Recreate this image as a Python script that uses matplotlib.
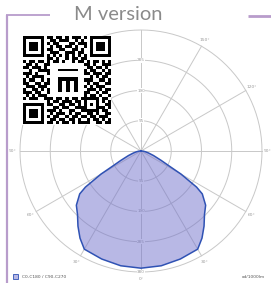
import numpy as np
import matplotlib
matplotlib.use('Agg')
import matplotlib.pyplot as plt
from matplotlib.patches import Rectangle

# photometric curve (same for C0-C180 and C90-C270), cd/1000lm
angles = [0, 10, 20, 30, 35, 40, 45, 50, 55, 57, 60, 62, 65, 70, 75, 80, 85, 90]
intensity = [368, 366, 361, 356, 334, 308, 282, 265, 235, 208, 145, 100, 70, 42, 25, 15, 8, 0]

ring_values = [95, 190, 285, 380]
spoke_angles = [0, 30, 60, 90, 120, 150]
right_labels = [0, 30, 60, 120, 150]
left_labels = [30, 60, 90, 120, 150]

legend_text = 'C0-C180 / C90-C270'
unit_text = 'cd/1000lm'
title = 'M version'

# QR code modules, rows top to bottom
qr_rows = [
    "1111111" + "0" + "1101101011101" + "0" + "1111111",
    "1000001" + "0" + "0110111001010" + "0" + "1000001",
    "1011101" + "0" + "1011000110111" + "0" + "1011101",
    "1011101" + "0" + "0101101101001" + "0" + "1011101",
    "1011101" + "0" + "1100110011010" + "0" + "1011101",
    "1000001" + "0" + "0111001110110" + "0" + "1000001",
    "1111111" + "0" + "1010101010101" + "0" + "1111111",
    "00000000" + "1101001011011" + "00000000",
    "101101101" + "01101001011" + "010110101",
    "011010011" + "00000000000" + "110100111",
    "110111010" + "00000000000" + "011011010",
    "001001111" + "00000000000" + "101100101",
    "111010001" + "00000000000" + "110111011",
    "010111100" + "00000000000" + "001010110",
    "101100101" + "00000000000" + "111001101",
    "110011011" + "00000000000" + "010110011",
    "011101110" + "00000000000" + "101011100",
    "100110101" + "00000000000" + "011101011",
    "111011001" + "00000000000" + "110010110",
    "010101110" + "00000000000" + "101101001",
    "101110011" + "10110101101" + "111110110",
    "000000001" + "01101110110" + "100010101",
    "111111101" + "10011011010" + "101010011",
    "100000100" + "01101100111" + "100011101",
    "101110101" + "11010011001" + "111110110",
    "101110100" + "10111010110" + "011010011",
    "101110101" + "01100101101" + "101101110",
    "100000100" + "11011011010" + "010110101",
    "111111101" + "10101101011" + "110011011",
]

W, H = 271, 283
fig = plt.figure(figsize=(W / 100, H / 100), dpi=100)

frame_col = '#b89ccb'
fill_col = (0.45, 0.45, 0.80, 0.5)
edge_col = '#2f52b4'
grid_col = '#c8c8c8'
lab_col = '#9a9a9a'

# background layer: frame, title, legend
bg = fig.add_axes([0, 0, 1, 1])
bg.set_xlim(0, W)
bg.set_ylim(H, 0)
bg.axis('off')
bg.plot([7, 7], [15, H], color=frame_col, lw=1.6, solid_capstyle='butt')
bg.plot([6.2, 50], [15.3, 15.3], color=frame_col, lw=1.3, solid_capstyle='butt')
bg.plot([248, W], [15.5, 15.5], color=frame_col, lw=2.0, solid_capstyle='butt')
bg.text(118, 15, title, ha='center', va='center', fontsize=14.5,
        family='Lato', color='#8a8a8a')
bg.add_patch(Rectangle((12.5, 274), 5, 5, facecolor=fill_col, edgecolor=edge_col, lw=0.6))
bg.text(22, 276.8, legend_text, ha='left', va='center', fontsize=3.2, color='#555555')
bg.text(253, 276.8, unit_text, ha='center', va='center', fontsize=3.2, color='#555555')

# polar diagram
cx, cy = 141, 151
rmax = 420
rpx = 121 * rmax / 380
ax = fig.add_axes([(cx - rpx) / W, (H - cy - rpx) / H, 2 * rpx / W, 2 * rpx / H],
                  projection='polar')
ax.set_theta_zero_location('S')
ax.set_ylim(0, rmax)
ax.axis('off')

circ = np.linspace(0, 2 * np.pi, 361)
for r in ring_values:
    ax.plot(circ, np.full_like(circ, r), color=grid_col, lw=0.7, zorder=1)
for a in spoke_angles:
    t = np.deg2rad(a)
    ax.plot([t, t], [0, 380], color=grid_col, lw=0.7, zorder=1)
    ax.plot([t + np.pi, t + np.pi], [0, 380], color=grid_col, lw=0.7, zorder=1)

for r in ring_values:
    ax.text(0, r, str(r), ha='center', va='center', fontsize=3, color=lab_col, zorder=2,
            bbox=dict(boxstyle='square,pad=0.1', fc='white', ec='none'))
for r in ring_values[:3]:
    ax.text(np.pi, r, str(r), ha='center', va='center', fontsize=3, color=lab_col, zorder=2,
            bbox=dict(boxstyle='square,pad=0.1', fc='white', ec='none'))
for a in right_labels:
    ax.text(np.deg2rad(a), 402, f'{a}°', ha='center', va='center', fontsize=3.2,
            color=lab_col, zorder=2, clip_on=False)
ax.text(np.pi / 2, 386, '90°', ha='left', va='center', fontsize=3.2,
        color=lab_col, zorder=2, clip_on=False)
for a in left_labels:
    ax.text(-np.deg2rad(a), 402, f'{a}°', ha='center', va='center', fontsize=3.2,
            color=lab_col, zorder=2, clip_on=False)

ang = np.array(angles, dtype=float)
val = np.array(intensity, dtype=float)
theta = np.deg2rad(np.concatenate([-ang[::-1], ang[1:]]))
rad = np.concatenate([val[::-1], val[1:]])
ax.fill(theta, rad, facecolor=fill_col, edgecolor='none', zorder=3)
ax.plot(theta, rad, color=edge_col, lw=1.1, zorder=4)

# QR code
qr = np.array([[int(c) for c in row] for row in qr_rows])
n = qr.shape[0]
qx0, qy0, qs = 22, 36, 89
qax = fig.add_axes([qx0 / W, (H - qy0 - qs) / H, qs / W, qs / H])
qax.set_facecolor('white')
qax.imshow(qr, cmap='gray_r', interpolation='nearest', aspect='auto',
           extent=(-0.5, n - 0.5, n - 0.5, -0.5), vmin=0, vmax=1)
qax.set_xlim(-0.8, n - 0.2)
qax.set_ylim(n - 0.2, -0.8)
# logo in the middle
for (x, y, w, h) in [(11.2, 10.1, 6.6, 0.9), (11.2, 12.9, 6.6, 1.2),
                     (11.2, 12.9, 1.4, 5.0), (13.8, 12.9, 1.3, 5.0), (16.4, 12.9, 1.4, 5.0)]:
    qax.add_patch(Rectangle((x, y), w, h, facecolor='black', edgecolor='none'))
qax.set_xticks([])
qax.set_yticks([])
for s in qax.spines.values():
    s.set_visible(False)

fig.savefig('out.png', dpi=100)
